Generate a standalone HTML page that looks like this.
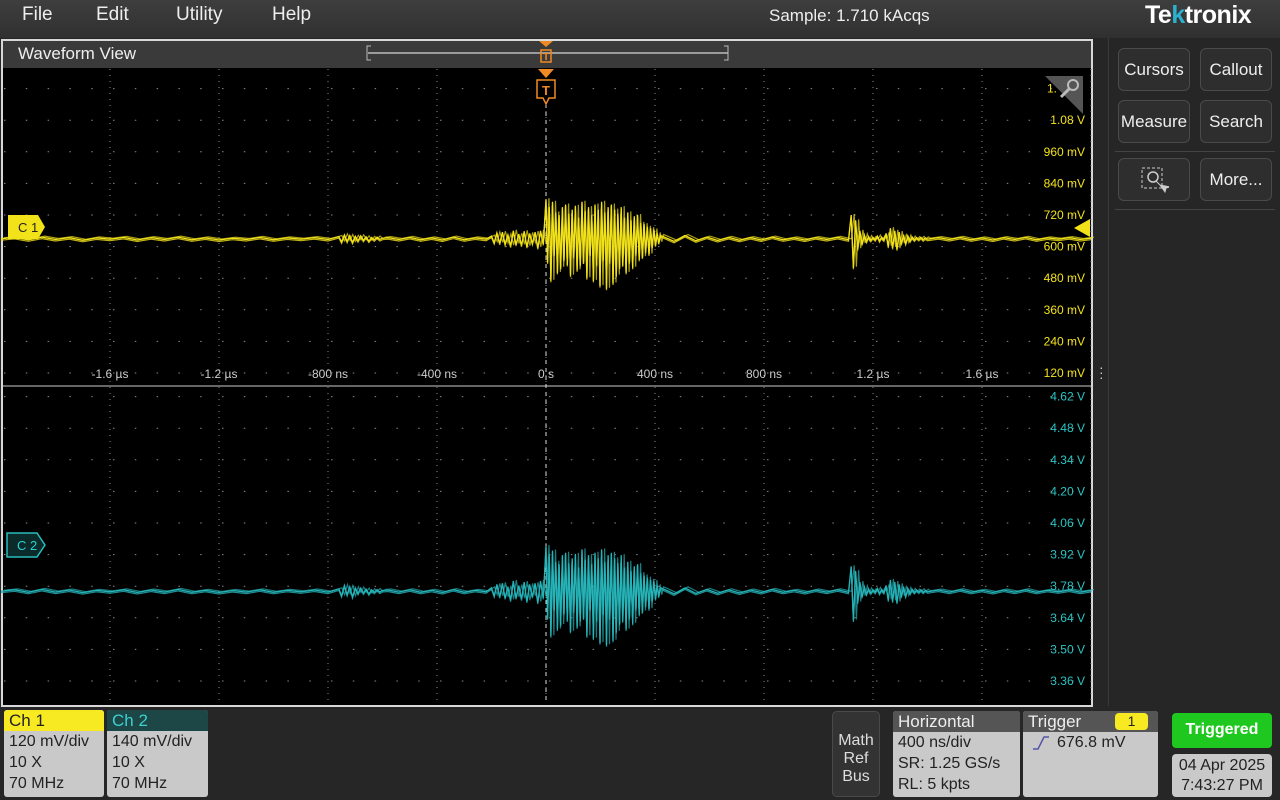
<!DOCTYPE html>
<html><head><meta charset="utf-8"><style>
*{box-sizing:border-box;margin:0;padding:0}
body{width:1280px;height:800px;background:#262626;font-family:"Liberation Sans",sans-serif;position:relative;overflow:hidden;color:#e8e8e8}
.abs{position:absolute}
.menu{left:0;top:0;width:1280px;height:38px;background:linear-gradient(#3e3e3e,#303030)}
.mi{top:4px;font-size:19px;color:#eee}
.btn{position:absolute;width:72px;height:43px;border:1px solid #4a4a4a;border-radius:6px;background:#2e2e2e;color:#eee;font-size:17px;text-align:center;line-height:41px}
.badge{position:absolute;background:#c9c9c9;border-radius:3px;color:#222;font-size:16px;line-height:21px;overflow:hidden}
.badge .h{height:21px;padding-left:5px;font-size:17px}
.badge .r{padding-left:5px}
</style></head><body>
<div class="abs menu">
 <div class="abs mi" style="left:22px">File</div>
 <div class="abs mi" style="left:96px">Edit</div>
 <div class="abs mi" style="left:176px">Utility</div>
 <div class="abs mi" style="left:272px">Help</div>
 <div class="abs mi" style="left:769px;font-size:17px;top:6px">Sample: 1.710 kAcqs</div>
 <div class="abs" style="left:1145px;top:1px;font-size:25px;font-weight:bold;color:#fff;letter-spacing:-0.5px">Te<span style="color:#2ab0d0">k</span>tronix</div>
</div>
<div class="abs" style="left:1108px;top:38px;width:172px;height:668px;border-left:1px solid #3a3a3a">
 <div class="btn" style="left:9px;top:10px">Cursors</div>
 <div class="btn" style="left:91px;top:10px">Callout</div>
 <div class="btn" style="left:9px;top:62px">Measure</div>
 <div class="btn" style="left:91px;top:62px">Search</div>
 <div class="abs" style="left:6px;top:113px;width:160px;height:1px;background:#444"></div>
 <div class="btn" style="left:9px;top:120px"><svg width="30" height="30" style="margin-top:6px" viewBox="0 0 30 30"><rect x="3" y="3" width="20" height="20" fill="none" stroke="#ccc" stroke-dasharray="3,2"/><circle cx="14" cy="12" r="5" fill="none" stroke="#ccc" stroke-width="1.5"/><path d="M17 16 L22 21 M21 20 l5 7 l1-4 l4-1z" stroke="#ccc" fill="#ccc"/></svg></div>
 <div class="btn" style="left:91px;top:120px">More...</div>
 <div class="abs" style="left:6px;top:171px;width:160px;height:1px;background:#444"></div>
</div>
<div class="abs" style="left:1099px;top:365px;color:#ccc;font-size:14px;line-height:5px">·<br>·<br>·</div>

<svg class="abs" style="left:0;top:0" width="1280" height="800" id="scope">
 <rect x="2" y="40" width="1090" height="666" fill="#000" stroke="#d8d8d8" stroke-width="2"/>
 <rect x="3" y="41" width="1088" height="27" fill="#3a3a3a"/>
 <text x="18" y="59" font-size="17" fill="#eee">Waveform View</text>
 <g>
  <line x1="368" y1="53" x2="728" y2="53" stroke="#bbb" stroke-width="1.5"/>
  <path d="M371 46 h-4 v14 h4 M724 46 h4 v14 h-4" stroke="#bbb" fill="none"/>
 </g>
 <g id="grid"></g>
 <line x1="3" y1="386" x2="1091" y2="386" stroke="#888" stroke-width="1.5"/>
 <line x1="546" y1="104" x2="546" y2="704" stroke="#ddd" stroke-dasharray="4,4"/>
 <g id="labels"></g>
 <g id="traces"></g>
 <g fill="#f08a24">
  <path d="M539 41 h14 l-7 6z"/>
  <rect x="541" y="50" width="10" height="12" fill="none" stroke="#f08a24" stroke-width="1.5"/>
  <text x="546" y="60" font-size="10" font-weight="bold" text-anchor="middle">T</text>
  <path d="M538 69 h16 l-8 9z"/>
  <path d="M537 80 h18 v18 h-6 l-3 6 l-3 -6 h-6z" fill="#000" stroke="#f08a24" stroke-width="1.5"/>
  <text x="546" y="95" font-size="13" font-weight="bold" text-anchor="middle">T</text>
 </g>
 <g>
  <path d="M1045 76 h38 v38z" fill="#555"/>
  <circle cx="1073" cy="85" r="5" fill="none" stroke="#bbb" stroke-width="2"/>
  <line x1="1069" y1="89" x2="1061" y2="97" stroke="#bbb" stroke-width="3"/>
 </g>
 <g>
  <path d="M8 215 h30 l7 12 l-7 12 h-30z" fill="#f2e21a"/>
  <text x="18" y="232" font-size="13" fill="#222">C 1</text>
 </g>
 <path d="M1090 219 v18 l-16 -9z" fill="#f2e21a"/>
 <g>
  <path d="M7 533 h30 l8 12 l-8 12 h-30z" fill="#0b2a2a" stroke="#2bbcbc" stroke-width="1.5"/>
  <text x="17" y="550" font-size="13" fill="#2bd0d0">C 2</text>
 </g>
</svg>

<div class="badge" style="left:4px;top:710px;width:100px;height:87px"><div class="h" style="background:#f7ea22">Ch 1</div><div class="r">120 mV/div</div><div class="r">10 X</div><div class="r">70 MHz</div></div>
<div class="badge" style="left:107px;top:710px;width:101px;height:87px"><div class="h" style="background:#1d4646;color:#3dd0d0">Ch 2</div><div class="r">140 mV/div</div><div class="r">10 X</div><div class="r">70 MHz</div></div>
<div class="abs" style="left:832px;top:711px;width:48px;height:86px;background:#333;border:1px solid #4a4a4a;border-radius:5px;text-align:center;font-size:16px;line-height:18px;padding-top:20px;color:#ddd">Math<br>Ref<br>Bus</div>
<div class="badge" style="left:893px;top:711px;width:127px;height:86px"><div class="h" style="background:#555;color:#eee">Horizontal</div><div class="r">400 ns/div</div><div class="r">SR: 1.25 GS/s</div><div class="r">RL: 5 kpts</div></div>
<div class="badge" style="left:1023px;top:711px;width:135px;height:86px"><div class="h" style="background:#555;color:#eee">Trigger<span style="position:absolute;left:92px;top:2px;width:33px;height:17px;background:#f7ea22;border-radius:4px;color:#222;font-size:14px;line-height:17px;text-align:center">1</span></div><div class="r" style="padding-left:34px">676.8 mV<svg style="position:absolute;left:8px;top:24px" width="20" height="16"><path d="M2 14 h5 l6 -12 h5" stroke="#5555aa" fill="none" stroke-width="1.5"/></svg></div></div>
<div class="abs" style="left:1172px;top:713px;width:100px;height:35px;background:#1ec81e;border-radius:4px;color:#fff;font-weight:bold;font-size:16px;text-align:center;line-height:34px">Triggered</div>
<div class="abs" style="left:1172px;top:754px;width:100px;height:43px;background:#c9c9c9;border-radius:4px;color:#222;font-size:16px;text-align:center;line-height:20px;padding-top:2px">04 Apr 2025<br>7:43:27 PM</div>

<script>
// ---- data ----
const timeTicks = [-1600,-1200,-800,-400,0,400,800,1200,1600];
const timeTickLabels = ["-1.6 µs","-1.2 µs","-800 ns","-400 ns","0 s","400 ns","800 ns","1.2 µs","1.6 µs"];
const ch1Ticks = [1080,960,840,720,600,480,360,240,120];
const ch1TickLabels = ["1.08 V","960 mV","840 mV","720 mV","600 mV","480 mV","360 mV","240 mV","120 mV"];
const ch2Ticks = [4620,4480,4340,4200,4060,3920,3780,3640,3500,3360];
const ch2TickLabels = ["4.62 V","4.48 V","4.34 V","4.20 V","4.06 V","3.92 V","3.78 V","3.64 V","3.50 V","3.36 V"];
const segStartNs = [-2000,-760,-580,-200,0,430,1120,1440];
const segStepNs = [50,10,40,10,6,40,8,40];
const ch1BaseMv = 630;
const ch2BaseMv = 3758;
const ch1Quiet1 = [0,5,-4,6,-3,4,-6,3,-2,5,-5,4,-3,6,-4,3,-5,2,-3,5,-4,3,-2,4,-3];
const ch1Small = [8,-12,15,-10,12,-14,9,-8,11,-6,7,-9,5,-4,6,-3,2];
const ch1Quiet2 = [4,-3,5,-4,3,-5,6,-4,3,-2];
const ch1Pre = [10,-15,22,-18,25,-20,15,-28,30,-22,18,-25,28,-30,20,-18,25,-35,30,-20];
const ch1Main = [150,-90,120,-160,140,-60,100,-130,90,-110,120,-80,130,-100,95,-140,110,-70,125,-120,80,-100,140,-90,105,-150,120,-60,90,-160,130,-100,110,-180,140,-80,100,-190,120,-90,130,-170,110,-140,95,-110,120,-100,80,-130,100,-90,70,-110,85,-60,90,-80,60,-70,55,-50,45,-60,40,-30,35,-25,20,-15,12];
const ch1Post = [8,-10,12,-8,6,-7,5,-6,4,-5,6,-4,3,-5,4,-3,5,-4];
const ch1Second = [90,-110,70,-40,30,-20,15,-10,8,-6,5,-4,10,-8,6,-5,20,-30,40,-35,30,-40,25,-20,15,-18,10,-8,6,-5,4,-3,5,-4,3,-2];
const ch1Quiet3 = [4,-3,5,-4,3,-5,4,-3,5,-4,3,-2,4,-3,2];
const ch2Quiet1 = [0,6,-5,8,-4,5,-7,4,-3,6,-6,5,-4,8,-5,4,-6,3,-4,6,-5,4,-3,5,-4];
const ch2Small = [10,-20,25,-15,20,-25,15,-10,14,-8,9,-12,6,-5,7,-4,3];
const ch2Quiet2 = [5,-4,6,-5,4,-6,7,-5,4,-3];
const ch2Pre = [15,-20,30,-25,35,-30,20,-40,45,-30,25,-35,40,-45,30,-25,35,-50,45,-30];
const ch2Main = [200,-120,160,-200,180,-80,130,-170,120,-150,160,-100,170,-130,125,-180,145,-90,165,-160,105,-130,185,-120,140,-200,160,-80,120,-210,170,-130,145,-230,185,-100,130,-240,160,-120,170,-220,145,-180,125,-145,160,-130,105,-170,130,-120,90,-145,110,-80,120,-105,80,-90,70,-65,60,-80,50,-40,45,-35,25,-20,15];
const ch2Post = [10,-12,15,-10,8,-9,6,-8,5,-6,8,-5,4,-6,5,-4,6,-5];
const ch2Second = [110,-130,90,-50,40,-25,20,-12,10,-8,6,-5,12,-10,8,-6,25,-40,50,-45,40,-50,30,-25,20,-22,12,-10,8,-6,5,-4,6,-5,4,-3];
const ch2Quiet3 = [5,-4,6,-5,4,-6,5,-4,6,-5,4,-3,5,-4,3];

// ---- axes ----
const NS = "http://www.w3.org/2000/svg";
const xT = t => 546 + t * 109 / 400;
const y1 = v => 373 - (v - 120) * 31.6 / 120;
const y2 = v => 681 - (v - 3360) * 31.6 / 140;
function mk(tag, attrs, parent){const e=document.createElementNS(NS,tag);for(const k in attrs)e.setAttribute(k,attrs[k]);parent.appendChild(e);return e;}

const grid = document.getElementById('grid');
for (let k=-5;k<=5;k++){
  const x = xT(k*400);
  if (x<3||x>1091) continue;
  const l = mk('line',{x1:x,y1:69,x2:x,y2:704,stroke:'#8a8a8a','stroke-dasharray':'1,5'},grid);
  
  
}
function hline(y){
  const l = mk('line',{x1:3,y1:y,x2:1091,y2:y,stroke:'#8a8a8a','stroke-dasharray':'1.5,20.3','stroke-dashoffset':'-1'},grid);
  
  
}
ch1Ticks.forEach(v=>hline(y1(v)));
hline(y1(1200));
ch2Ticks.forEach(v=>hline(y2(v)));

const lab = document.getElementById('labels');
timeTicks.forEach((t,i)=>{
  const e = mk('text',{x:xT(t),y:378,'font-size':12,fill:'#ccc','text-anchor':'middle'},lab);
  e.textContent = timeTickLabels[i];
  
  
});
ch1Ticks.forEach((v,i)=>{
  const e = mk('text',{x:1085,y:y1(v)+4,'font-size':12,fill:'#f2e21a','text-anchor':'end'},lab);
  e.textContent = ch1TickLabels[i];
  
  
});
{
  const e = mk('text',{x:1047,y:y1(1200)+4,'font-size':12,fill:'#f2e21a'},lab);
  e.textContent = '1.';
  
  
}
ch2Ticks.forEach((v,i)=>{
  const e = mk('text',{x:1085,y:y2(v)+4,'font-size':12,fill:'#2bc4c4','text-anchor':'end'},lab);
  e.textContent = ch2TickLabels[i];
  
  
});

function build(segs, base, yf){
  let d = '';
  segs.forEach((arr,s)=>{
    arr.forEach((v,i)=>{
      const t = segStartNs[s] + i*segStepNs[s];
      d += (d?'L':'M') + xT(t).toFixed(1) + ' ' + yf(base+v).toFixed(1) + ' ';
    });
  });
  return d;
}
const tr = document.getElementById('traces');
const d1 = build([ch1Quiet1,ch1Small,ch1Quiet2,ch1Pre,ch1Main,ch1Post,ch1Second,ch1Quiet3], ch1BaseMv, y1);
const d2 = build([ch2Quiet1,ch2Small,ch2Quiet2,ch2Pre,ch2Main,ch2Post,ch2Second,ch2Quiet3], ch2BaseMv, y2);
[[d1,'#f2e21a','ch1-trace'],[d2,'#26b4b8','ch2-trace']].forEach(([d,c,n])=>{
  const g = mk('g',{},tr);
  
  
  mk('path',{d:d,fill:'none',stroke:c,'stroke-width':1.2,transform:'translate(0,1.5)',opacity:0.8},g);
  mk('path',{d:d,fill:'none',stroke:c,'stroke-width':1.2,transform:'translate(3,-1)',opacity:0.7},g);
  mk('path',{d:d,fill:'none',stroke:c,'stroke-width':1.3},g);
});
</script>
</body></html>
